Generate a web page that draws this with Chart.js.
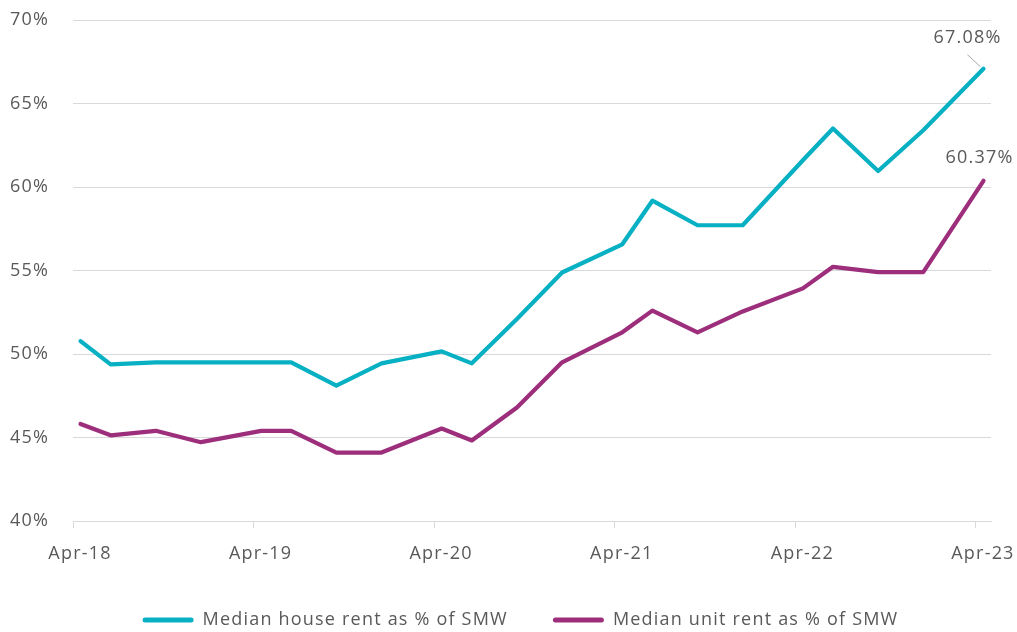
<!DOCTYPE html>
<html>
<head>
<meta charset="utf-8">
<script src="https://cdn.jsdelivr.net/npm/chart.js@4.4.1/dist/chart.umd.min.js"></script>
<style>
html,body{margin:0;padding:0;background:#ffffff;}
canvas{display:block;}
</style>
</head>
<body>
<canvas id="c" width="1017" height="632"></canvas>
<script>
// ---- data ----
const dates = ['Apr-18','Jun-18','Sep-18','Dec-18','Apr-19','Jun-19','Sep-19','Dec-19',
               'Apr-20','Jun-20','Sep-20','Dec-20','Apr-21','Jun-21','Sep-21','Dec-21',
               'Apr-22','Jun-22','Sep-22','Dec-22','Apr-23'];
const houseRent = [50.77, 49.38, 49.50, 49.50, 49.50, 49.50, 48.10, 49.44,
                   50.16, 49.44, 52.10, 54.88, 56.57, 59.18, 57.71, 57.71,
                   61.60, 63.50, 60.96, 63.40, 67.08];
const unitRent  = [45.81, 45.13, 45.40, 44.72, 45.40, 45.40, 44.10, 44.10,
                   45.54, 44.82, 46.80, 49.50, 51.30, 52.60, 51.30, 52.55,
                   53.93, 55.22, 54.90, 54.90, 60.37];
const tickLabels = ['Apr-18','Apr-19','Apr-20','Apr-21','Apr-22','Apr-23'];
const seriesNames = ['Median house rent as % of SMW', 'Median unit rent as % of SMW'];

// ---- helpers ----
const MONTHS = ['Jan','Feb','Mar','Apr','May','Jun','Jul','Aug','Sep','Oct','Nov','Dec'];
function monthIndex(lbl) {
  const [m, y] = lbl.split('-');
  return (parseInt(y, 10) - 18) * 12 + MONTHS.indexOf(m) - 3;
}
const SLOT_CENTER = 0.5;   // date axis: point sits in the middle of its month slot
const toPoints = vals => vals.map((v, i) => ({ x: monthIndex(dates[i]) + SLOT_CENTER, y: v }));
const tickPositions = tickLabels.map(monthIndex);

const TEAL = '#07B0C3';
const PLUM = '#9C2E7B';
const TEXT = '#595959';
const GRID = '#D9D9D9';
const LS = '1.2px';
const FONT_FAMILY = '"Open Sans", "DejaVu Sans", sans-serif';
const LEGEND_GAP = 45;
const LEGEND_SHIFT = 20;
const PAD_BOTTOM = -7;

Chart.defaults.font.family = FONT_FAMILY;
Chart.defaults.font.size = 18;
Chart.defaults.color = TEXT;

const spacingPlugin = {
  id: 'spacing',
  beforeUpdate(chart) { chart.ctx.letterSpacing = LS; },
  beforeLayout(chart) { chart.ctx.letterSpacing = LS; },
  afterLayout(chart) {
    const lg = chart.legend;
    if (lg) { lg.left += LEGEND_SHIFT; lg.right += LEGEND_SHIFT; }
  },
  beforeDraw(chart) { chart.ctx.letterSpacing = LS; }
};

const endLabels = {
  id: 'endLabels',
  afterDatasetsDraw(chart) {
    const ctx = chart.ctx;
    const cfg = [
      { dx: -16, dy: -30.5, leader: true },
      { dx: -4, dy: -23, leader: false }
    ];
    chart.data.datasets.forEach((ds, i) => {
      const meta = chart.getDatasetMeta(i);
      const pt = meta.data[meta.data.length - 1];
      const v = ds.data[ds.data.length - 1].y;
      const c = cfg[i];
      ctx.save();
      ctx.letterSpacing = LS;
      ctx.font = '18px ' + FONT_FAMILY;
      ctx.fillStyle = TEXT;
      ctx.textAlign = 'center';
      ctx.textBaseline = 'middle';
      ctx.fillText(v.toFixed(2) + '%', pt.x + c.dx, pt.y + c.dy);
      if (c.leader) {
        ctx.strokeStyle = '#A6A6A6';
        ctx.lineWidth = 1;
        ctx.beginPath();
        ctx.moveTo(pt.x - 16, pt.y - 14);
        ctx.lineTo(pt.x - 3, pt.y - 2);
        ctx.stroke();
      }
      ctx.restore();
    });
  }
};

const lineStyle = {
  borderWidth: 4.2,
  pointRadius: 0,
  pointHoverRadius: 0,
  tension: 0,
  borderCapStyle: 'round',
  borderJoinStyle: 'round',
  fill: false
};

new Chart(document.getElementById('c'), {
  type: 'line',
  data: {
    datasets: [
      Object.assign({ label: seriesNames[0], data: toPoints(houseRent), borderColor: TEAL, backgroundColor: TEAL }, lineStyle),
      Object.assign({ label: seriesNames[1], data: toPoints(unitRent), borderColor: PLUM, backgroundColor: PLUM }, lineStyle)
    ]
  },
  options: {
    responsive: false,
    animation: false,
    devicePixelRatio: 1,
    layout: { padding: { left: 10, right: 26, top: 20, bottom: PAD_BOTTOM } },
    scales: {
      x: {
        type: 'linear',
        min: 0,
        max: 61,
        afterBuildTicks: s => { s.ticks = tickPositions.map(v => ({ value: v })); },
        afterFit: s => { s.height = 632 - PAD_BOTTOM - 28 - LEGEND_GAP - 521; s.paddingLeft = 0; s.paddingRight = 0; },
        ticks: {
          autoSkip: false,
          maxRotation: 0,
          padding: 15,
          labelOffset: 7,
          color: TEXT,
          font: { size: 18 },
          callback: v => tickLabels[tickPositions.indexOf(v)]
        },
        grid: { drawOnChartArea: false, drawTicks: true, tickLength: 7, color: GRID, lineWidth: 1 },
        border: { display: true, color: GRID, width: 1 }
      },
      y: {
        min: 40,
        max: 70,
        afterFit: s => { s.width = 63; s.paddingTop = 0; s.paddingBottom = 0; },
        ticks: {
          stepSize: 5,
          padding: 24,
          color: TEXT,
          font: { size: 18 },
          callback: v => v + '%'
        },
        grid: { color: GRID, lineWidth: 1, drawTicks: false },
        border: { display: false }
      }
    },
    plugins: {
      tooltip: { enabled: false },
      legend: {
        position: 'bottom',
        labels: {
          boxWidth: 51,
          boxHeight: 5,
          padding: LEGEND_GAP,
          color: TEXT,
          font: { size: 18 },
          useBorderRadius: true,
          borderRadius: 2.5,
          generateLabels(chart) {
            const items = Chart.defaults.plugins.legend.labels.generateLabels(chart);
            items.forEach(it => { it.lineWidth = 0; it.fillStyle = it.strokeStyle; });
            return items;
          }
        }
      }
    }
  },
  plugins: [spacingPlugin, endLabels]
});
</script>
</body>
</html>
